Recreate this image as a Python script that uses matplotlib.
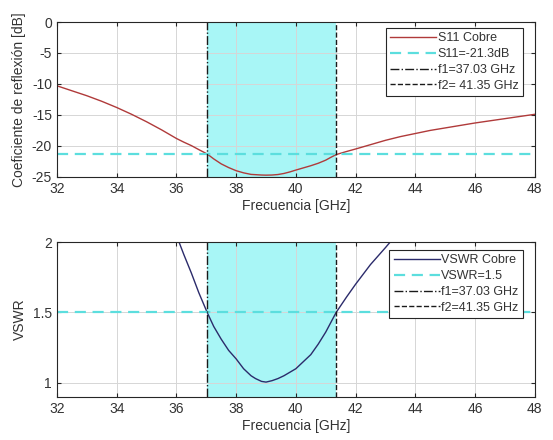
import numpy as np
import matplotlib.pyplot as plt

plt.rcParams['font.family'] = ['Liberation Sans', 'DejaVu Sans']
plt.rcParams['axes.unicode_minus'] = False

# valores
f_s11 = [32, 32.5, 33, 33.5, 34, 34.5, 35, 35.5, 36, 36.25, 36.5, 36.75, 37.03,
         37.25, 37.5, 37.75, 38, 38.25, 38.5, 38.85, 39.0, 39.2, 39.4, 39.6,
         39.8, 40, 40.25, 40.5, 40.75, 41, 41.15, 41.35, 41.7, 42, 42.5, 43,
         43.5, 44, 44.5, 45, 45.5, 46, 46.5, 47, 47.5, 48]
s11 = [-10.3, -11.1, -11.9, -12.8, -13.8, -14.9, -16.1, -17.4, -18.8, -19.4,
       -19.95, -20.6, -21.3, -22.1, -22.9, -23.5, -24.0, -24.35, -24.6, -24.7,
       -24.72, -24.7, -24.62, -24.45, -24.2, -23.9, -23.55, -23.2, -22.8, -22.3,
       -21.9, -21.4, -20.9, -20.5, -19.8, -19.1, -18.5, -18.0, -17.5, -17.1,
       -16.7, -16.3, -15.95, -15.6, -15.25, -14.9]

f_vswr = [36.05, 36.25, 36.5, 36.75, 37.03, 37.25, 37.5, 37.75, 38, 38.25,
          38.5, 38.65, 38.85, 39.0, 39.2, 39.4, 39.6, 39.8, 40, 40.25, 40.5,
          40.75, 41, 41.15, 41.35, 41.7, 42, 42.5, 43, 43.2]
vswr = [2.02, 1.91, 1.78, 1.64, 1.5, 1.40, 1.31, 1.23, 1.17, 1.10,
        1.05, 1.03, 1.01, 1.005, 1.015, 1.03, 1.05, 1.075, 1.10, 1.15, 1.20,
        1.275, 1.36, 1.42, 1.5, 1.61, 1.70, 1.84, 1.96, 2.01]

f1 = 37.03
f2 = 41.35
s11_ref = -21.3
vswr_ref = 1.5

fill_c = '#a8f6f6'
cyan = '#5cdede'
txt = '#333333'

fig = plt.figure(figsize=(5.53, 4.4), dpi=100)
ax1 = fig.add_axes([0.103, 0.598, 0.864, 0.352])
ax2 = fig.add_axes([0.103, 0.098, 0.864, 0.352])


def style(ax):
    ax.set_xlim(32, 48)
    ax.set_xticks(np.arange(32, 49, 2))
    ax.set_axisbelow(True)
    ax.grid(True, color='#d6d6d6', linewidth=0.7)
    ax.tick_params(direction='in', top=True, right=True, labelsize=10,
                   length=3, color='#262626', labelcolor=txt)
    for s in ax.spines.values():
        s.set_color('#262626')
        s.set_linewidth(0.8)
    ax.set_xlabel('Frecuencia [GHz]', fontsize=10, color=txt, labelpad=2)


def legend(ax, y):
    lg = ax.legend(loc='upper right', bbox_to_anchor=(0.975, y), borderaxespad=0,
                   fontsize=9, fancybox=False, edgecolor='#262626', framealpha=1,
                   handlelength=3.7, handletextpad=0.1, labelspacing=0.3,
                   borderpad=0.35)
    lg.get_frame().set_linewidth(0.8)
    for t in lg.get_texts():
        t.set_color(txt)


ax1.axvspan(f1, f2, color=fill_c, zorder=0.2, lw=0)
ax1.plot(f_s11, s11, color='#b03a3a', lw=1.0, label='S11 Cobre')
ax1.axhline(s11_ref, color=cyan, lw=1.6, ls=(0, (5, 3)), label='S11=-21.3dB')
ax1.axvline(f1, color='#1a1a1a', lw=1.0, ls='-.', label='f1=37.03 GHz')
ax1.axvline(f2, color='#1a1a1a', lw=1.0, ls='--', label='f2= 41.35 GHz')
ax1.set_ylim(-25, 0)
ax1.set_yticks([-25, -20, -15, -10, -5, 0])
ax1.set_ylabel('Coeficiente de reflexión [dB]', fontsize=10, color=txt)
style(ax1)
legend(ax1, 0.961)

ax2.axvspan(f1, f2, color=fill_c, zorder=0.2, lw=0)
ax2.plot(f_vswr, vswr, color='#2b2b6b', lw=1.0, label='VSWR Cobre')
ax2.axhline(vswr_ref, color=cyan, lw=1.6, ls=(0, (5, 3)), label='VSWR=1.5')
ax2.axvline(f1, color='#1a1a1a', lw=1.0, ls='-.', label='f1=37.03 GHz')
ax2.axvline(f2, color='#1a1a1a', lw=1.0, ls='--', label='f2=41.35 GHz')
ax2.set_ylim(0.9, 2)
ax2.set_yticks([1, 1.5, 2])
ax2.set_yticklabels(['1', '1.5', '2'])
ax2.set_ylabel('VSWR', fontsize=10, color=txt)
style(ax2)
legend(ax2, 0.948)

fig.savefig('out.png', dpi=100)
